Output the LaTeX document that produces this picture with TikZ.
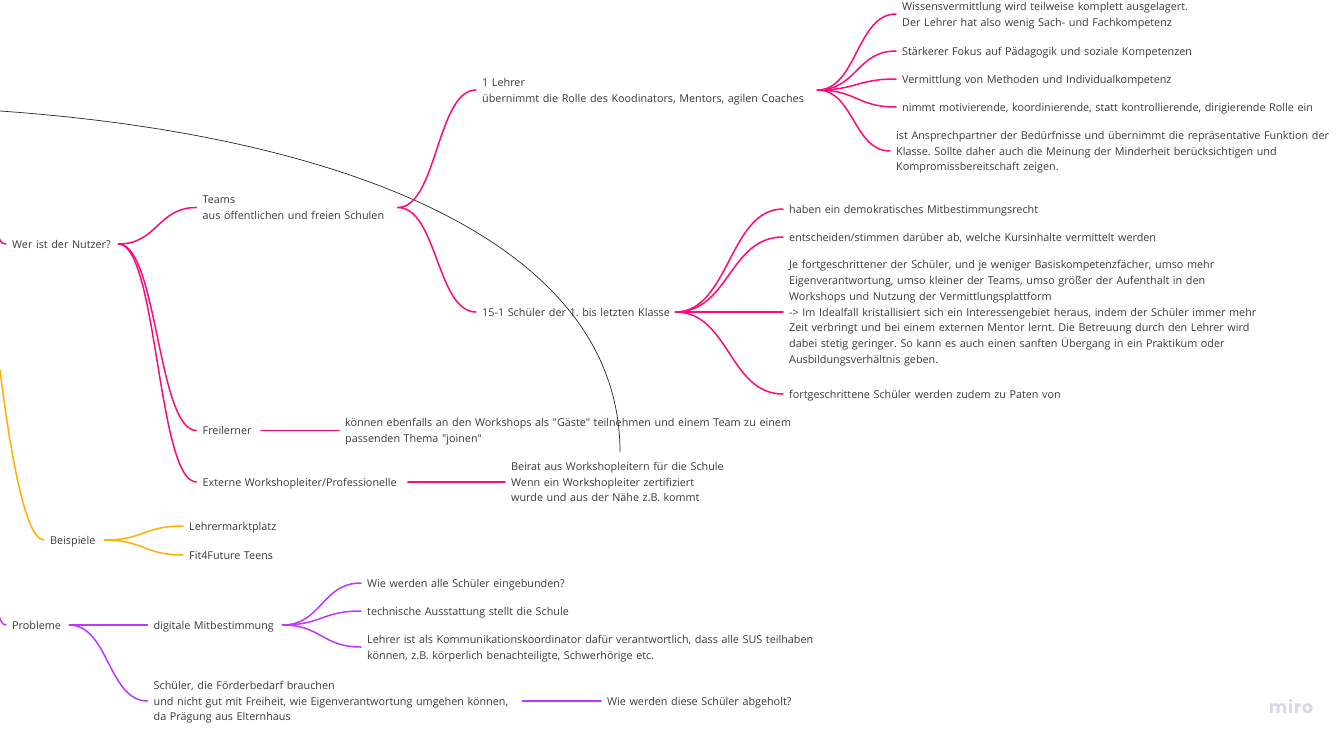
\documentclass[tikz,border=0pt]{standalone}
\usepackage{fontspec}
\setmainfont{Open Sans}[Ligatures=TeXOff]
\newfontfamily\logofont{Poppins}[LetterSpace=4]
\usetikzlibrary{calc}
\definecolor{txt}{HTML}{3A3A3A}
\definecolor{pinkc}{HTML}{FF0A78}
\definecolor{orangec}{HTML}{FFB000}
\definecolor{purplec}{HTML}{BC38FF}
\definecolor{logoc}{HTML}{D9D9E6}
\tikzset{
  mm/.style={anchor=west,inner ysep=0pt,inner xsep=6pt,align=left,text=txt,
    font=\fontsize{10.8}{15.75}\selectfont\frenchspacing},
  conn/.style={line width=1.5pt,line cap=round},
  pinkl/.style={conn,draw=pinkc},
  orangel/.style={conn,draw=orangec},
  purplel/.style={conn,draw=purplec},
}
\newcommand{\mstr}{\rule[-3.6pt]{0pt}{15.6pt}}
\newcommand{\mnd}[5]{\node[mm,text width=#4pt] (#1) at (#2,#3) {\mstr #5\mstr};}
\newcommand{\lnk}[3]{%
  \coordinate (mid) at ($(#2.east)!.5!(#3.west)$);
  \draw[#1] (#2.east) .. controls (mid |- #2.east) and (mid |- #3.west) .. (#3.west);}
\begin{document}
\begin{tikzpicture}[x=1pt,y=-1pt]
\useasboundingbox (0,0) rectangle (1343,744);
\clip (0,0) rectangle (1343,744);
\fill[white] (0,0) rectangle (1343,744);
% nodes
\mnd{wer}{6}{244}{100}{Wer ist der Nutzer?}
\mnd{teams}{196.5}{207.5}{189}{Teams\\aus öffentlichen und freien Schulen}
\mnd{frei}{196.5}{430.5}{52}{Freilerner}
\mnd{ext}{196.5}{482}{199}{Externe Workshopleiter/Professionelle}
\mnd{lehrer}{476}{90}{329}{1 Lehrer\\übernimmt die Rolle des Koodinators, Mentors, agilen Coaches}
\mnd{schueler}{476}{312}{187}{\mbox{15-1 Schüler der 1. bis letzten Klasse}}
\mnd{wiss}{896}{14}{340}{Wissensvermittlung wird teilweise komplett ausgelagert.\\Der Lehrer hat also wenig Sach- und Fachkompetenz}
\mnd{staerk}{896}{51}{340}{Stärkerer Fokus auf Pädagogik und soziale Kompetenzen}
\mnd{verm}{896}{79}{340}{Vermittlung von Methoden und Individualkompetenz}
\mnd{nimmt}{896}{107}{430}{nimmt motivierende, koordinierende, statt kontrollierende, dirigierende Rolle ein}
\mnd{ist}{890}{151}{442}{ist Ansprechpartner der Bedürfnisse und übernimmt die repräsentative Funktion der\\Klasse. Sollte daher auch die Meinung der Minderheit berücksichtigen und\\Kompromissbereitschaft zeigen.}
\mnd{haben}{783}{209}{300}{haben ein demokratisches Mitbestimmungsrecht}
\mnd{entsch}{783}{237}{400}{entscheiden/stimmen darüber ab, welche Kursinhalte vermittelt werden}
\mnd{je}{783}{312}{480}{Je fortgeschrittener der Schüler, und je weniger Basiskompetenzfächer, umso mehr\\Eigenverantwortung, umso kleiner der Teams, umso größer der Aufenthalt in den\\Workshops und Nutzung der Vermittlungsplattform\\-> Im Idealfall kristallisiert sich ein Interessengebiet heraus, indem der Schüler immer mehr\\Zeit verbringt und bei einem externen Mentor lernt. Die Betreuung durch den Lehrer wird\\dabei stetig geringer. So kann es auch einen sanften Übergang in ein Praktikum oder\\Ausbildungsverhältnis geben.}
\mnd{fort}{783}{394}{300}{fortgeschrittene Schüler werden zudem zu Paten von}
\mnd{koennen}{339}{430.5}{450}{können ebenfalls an den Workshops als "Gäste" teilnehmen und einem Team zu einem\\passenden Thema "joinen"}
\mnd{beirat}{505}{482}{230}{Beirat aus Workshopleitern für die Schule\\Wenn ein Workshopleiter zertifiziert\\wurde und aus der Nähe z.B. kommt}
\mnd{beisp}{44}{540}{48}{Beispiele}
\mnd{markt}{183}{526}{100}{Lehrermarktplatz}
\mnd{fit}{183}{555}{100}{Fit4Future Teens}
\mnd{prob}{6}{625}{51}{Probleme}
\mnd{dig}{147.5}{625}{122.5}{digitale Mitbestimmung}
\mnd{wiew}{361}{583}{220}{Wie werden alle Schüler eingebunden?}
\mnd{tech}{361}{611}{220}{technische Ausstattung stellt die Schule}
\mnd{lk}{361}{647}{460}{Lehrer ist als Kommunikationskoordinator dafür verantwortlich, dass alle SUS teilhaben\\können, z.B. körperlich benachteiligte, Schwerhörige etc.}
\mnd{foerd}{147.5}{701}{362.5}{Schüler, die Förderbedarf brauchen\\und nicht gut mit Freiheit, wie Eigenverantwortung umgehen können,\\da Prägung aus Elternhaus}
\mnd{abgeh}{601}{701}{200}{Wie werden diese Schüler abgeholt?}
\node[anchor=center,inner sep=0pt,text=logoc,font=\logofont\bfseries\fontsize{17.5}{17.5}\selectfont] (logo) at (1291,706.5) {miro};
% free ends
\coordinate (pinkin) at (-1,238);
\coordinate (purplein) at (-1,616);
\coordinate (orangein) at (0,370);
\coordinate (blackA) at (0,111);
\coordinate (blackB) at (620,452);
% connectors
\draw[pinkl] (pinkin) .. controls (1,243) and (3,244) .. (wer.west);
\draw[purplel] (purplein) .. controls (1,622) and (3,625) .. (prob.west);
\draw[orangel] (orangein) .. controls (10,450) and (25,540) .. (beisp.west);
\draw[line width=.7pt,draw=black!85] (blackA) .. controls (340,135) and (620,240) .. (blackB);
\lnk{pinkl}{wer}{teams}
\lnk{pinkl}{wer}{frei}
\lnk{pinkl}{wer}{ext}
\lnk{pinkl}{teams}{lehrer}
\lnk{pinkl}{teams}{schueler}
\lnk{pinkl}{lehrer}{wiss}
\lnk{pinkl}{lehrer}{staerk}
\lnk{pinkl}{lehrer}{verm}
\lnk{pinkl}{lehrer}{nimmt}
\lnk{pinkl}{lehrer}{ist}
\lnk{pinkl}{schueler}{haben}
\lnk{pinkl}{schueler}{entsch}
\lnk{pinkl}{schueler}{je}
\lnk{pinkl}{schueler}{fort}
\lnk{pinkl}{frei}{koennen}
\lnk{pinkl}{ext}{beirat}
\lnk{orangel}{beisp}{markt}
\lnk{orangel}{beisp}{fit}
\lnk{purplel}{prob}{dig}
\lnk{purplel}{prob}{foerd}
\lnk{purplel}{dig}{wiew}
\lnk{purplel}{dig}{tech}
\lnk{purplel}{dig}{lk}
\lnk{purplel}{foerd}{abgeh}
\end{tikzpicture}
\end{document}
